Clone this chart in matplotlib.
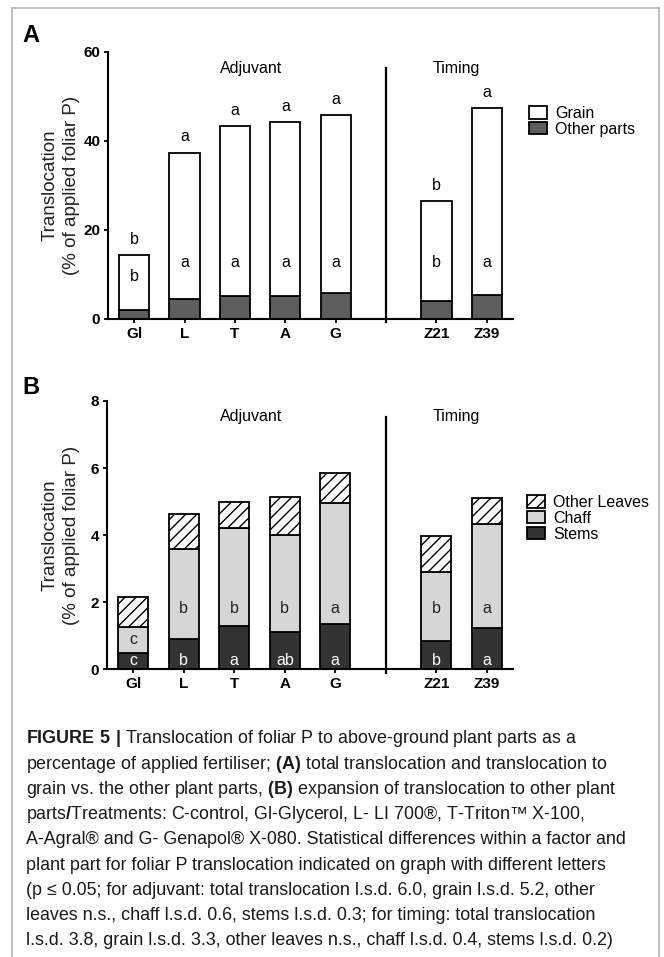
import numpy as np
import matplotlib
matplotlib.use('Agg')
import matplotlib.pyplot as plt
from matplotlib import font_manager
from matplotlib.patches import Patch
from matplotlib.lines import Line2D

# data
treatments = ['Gl', 'L', 'T', 'A', 'G', 'Z21', 'Z39']

# panel A
other_parts = [2.1, 4.6, 5.1, 5.2, 5.9, 4.0, 5.3]
total_A = [14.4, 37.4, 43.4, 44.2, 45.8, 26.5, 47.5]
letters_total = ['b', 'a', 'a', 'a', 'a', 'b', 'a']
letters_grain = ['b', 'a', 'a', 'a', 'a', 'b', 'a']

# panel B
stems = [0.48, 0.90, 1.30, 1.12, 1.35, 0.83, 1.22]
chaff = [0.79, 2.69, 2.92, 2.87, 3.60, 2.06, 3.10]
other_leaves = [0.88, 1.04, 0.78, 1.14, 0.89, 1.09, 0.80]
letters_chaff = ['c', 'b', 'b', 'b', 'a', 'b', 'a']
letters_stems = ['c', 'b', 'a', 'ab', 'a', 'b', 'a']

caption = [
    r'$\mathbf{FIGURE\ 5\ |}$ Translocation of foliar P to above-ground plant parts as a',
    r'percentage of applied fertiliser; $\mathbf{(A)}$ total translocation and translocation to',
    r'grain vs. the other plant parts, $\mathbf{(B)}$ expansion of translocation to other plant',
    r'parts$\mathbf{/}$Treatments: C-control, Gl-Glycerol, L- LI 700®, T-Triton™ X-100,',
    'A-Agral® and G- Genapol® X-080. Statistical differences within a factor and',
    'plant part for foliar P translocation indicated on graph with different letters',
    '(p ≤ 0.05; for adjuvant: total translocation l.s.d. 6.0, grain l.s.d. 5.2, other',
    'leaves n.s., chaff l.s.d. 0.6, stems l.s.d. 0.3; for timing: total translocation',
    'l.s.d. 3.8, grain l.s.d. 3.3, other leaves n.s., chaff l.s.d. 0.4, stems l.s.d. 0.2)',
]

names = {f.name for f in font_manager.fontManager.ttflist}
cap_family = 'Liberation Sans Narrow' if 'Liberation Sans Narrow' in names else 'Liberation Sans'

plt.rcParams['font.family'] = ['Liberation Sans', 'DejaVu Sans']
plt.rcParams['mathtext.fontset'] = 'custom'
plt.rcParams['mathtext.rm'] = cap_family
plt.rcParams['mathtext.bf'] = cap_family + ':bold'
plt.rcParams['hatch.linewidth'] = 1.0

W, H = 664, 957
fig = plt.figure(figsize=(W / 100, H / 100), dpi=100)

def fx(x):
    return x / W

def fy(y):
    return 1 - y / H

x = np.r_[np.arange(5), np.arange(2) + 6]
bw = 0.6
lw = 1.3

axA = fig.add_axes([fx(108), fy(319), 405 / W, 267 / H])
axB = fig.add_axes([fx(107), fy(669.3), 406 / W, 268.3 / H])

# ---- panel A
other_parts = np.array(other_parts)
total_A = np.array(total_A)
grain = total_A - other_parts
axA.bar(x, other_parts, bw, color='#5e5e5e', edgecolor='black', lw=lw)
axA.bar(x, grain, bw, bottom=other_parts, color='white', edgecolor='black', lw=lw)
for xi, t, o, lt, lg in zip(x, total_A, other_parts, letters_total, letters_grain):
    axA.text(xi, t + 3.5, lt, ha='center', va='center', fontsize=11.5)
    axA.text(xi, min(12.6, (o + t) / 2 + 1.3), lg, ha='center', va='center', fontsize=11.5)
axA.set_ylim(0, 60)
axA.set_yticks([0, 20, 40, 60])
axA.plot([5, 5], [-0.75, 56.3], color='black', lw=1.6, clip_on=False)
axA.text(2.33, 56.3, 'Adjuvant', ha='center', va='center', fontsize=11.5)
axA.text(6.4, 56.3, 'Timing', ha='center', va='center', fontsize=11.5)
axA.legend(handles=[Patch(facecolor='white', edgecolor='black', lw=lw, label='Grain'),
                    Patch(facecolor='#5e5e5e', edgecolor='black', lw=lw, label='Other parts')],
           loc='upper left', bbox_to_anchor=(fx(529), fy(106)), bbox_transform=fig.transFigure,
           frameon=False, fontsize=11.5, handlelength=1.15, handleheight=0.8,
           handletextpad=0.5, labelspacing=0.05, borderpad=0, borderaxespad=0)

# ---- panel B
stems = np.array(stems)
chaff = np.array(chaff)
other_leaves = np.array(other_leaves)
axB.bar(x, stems, bw, color='#333333', edgecolor='black', lw=lw)
axB.bar(x, chaff, bw, bottom=stems, color='#d6d6d6', edgecolor='black', lw=lw)
axB.bar(x, other_leaves, bw, bottom=stems + chaff, color='white', edgecolor='black',
        lw=lw, hatch='///')
for xi, s, c, lc, ls in zip(x, stems, chaff, letters_chaff, letters_stems):
    axB.text(xi, min(1.8, s + c / 2), lc, ha='center', va='center', fontsize=11.5, color='#222222')
    axB.text(xi, 0.26, ls, ha='center', va='center', fontsize=11.5, color='white')
axB.set_ylim(0, 8)
axB.set_yticks([0, 2, 4, 6, 8])
axB.plot([5, 5], [-0.1, 7.53], color='black', lw=1.6, clip_on=False)
axB.text(2.33, 7.53, 'Adjuvant', ha='center', va='center', fontsize=11.5)
axB.text(6.4, 7.53, 'Timing', ha='center', va='center', fontsize=11.5)
axB.legend(handles=[Patch(facecolor='white', edgecolor='black', lw=lw, hatch='///', label='Other Leaves'),
                    Patch(facecolor='#d6d6d6', edgecolor='black', lw=lw, label='Chaff'),
                    Patch(facecolor='#333333', edgecolor='black', lw=lw, label='Stems')],
           loc='upper left', bbox_to_anchor=(fx(527), fy(495)), bbox_transform=fig.transFigure,
           frameon=False, fontsize=11.5, handlelength=1.15, handleheight=0.8,
           handletextpad=0.5, labelspacing=0.05, borderpad=0, borderaxespad=0)

for ax in (axA, axB):
    ax.set_xlim(-0.52, 7.52)
    ax.set_xticks(x)
    ax.set_xticklabels(treatments)
    for s in ('top', 'right'):
        ax.spines[s].set_visible(False)
    for s in ('left', 'bottom'):
        ax.spines[s].set_linewidth(1.5)
    ax.tick_params(axis='both', length=3, width=1.3, pad=2.5, labelsize=11)
    for lab in ax.get_xticklabels() + ax.get_yticklabels():
        lab.set_fontweight('bold')

# y labels
for yc in ((52 + 319) / 2, (401 + 669.3) / 2):
    fig.text(fx(61), fy(yc), 'Translocation\n(% of applied foliar P)', rotation=90,
             ha='center', va='center', fontsize=13.5, linespacing=1.3, color='#222222')

# panel letters
fig.text(fx(22), fy(35.5), 'A', ha='left', va='center', fontsize=17, fontweight='bold')
fig.text(fx(22), fy(387.5), 'B', ha='left', va='center', fontsize=17, fontweight='bold')

# caption
cap_texts = []
for i, line in enumerate(caption):
    yb = 737.3 + i * 25.25 + 6
    cap_texts.append(fig.text(fx(26.3), fy(yb), line, ha='left', va='baseline',
                              fontsize=13, family=cap_family, color='#1a1a1a'))
renderer = fig.canvas.get_renderer()
wmax = max(t.get_window_extent(renderer).width for t in cap_texts)
for t in cap_texts:
    t.set_fontsize(13 * 600 / wmax)

# frame round the figure
frame_kw = dict(color='#b4b4b4', lw=1.2, transform=fig.transFigure)
fig.add_artist(Line2D([fx(12), fx(12)], [fy(8), 0], **frame_kw))
fig.add_artist(Line2D([fx(12), fx(659)], [fy(8), fy(8)], **frame_kw))
fig.add_artist(Line2D([fx(659), fx(659)], [fy(8), 0], **frame_kw))

fig.savefig('out.png', dpi=100)
